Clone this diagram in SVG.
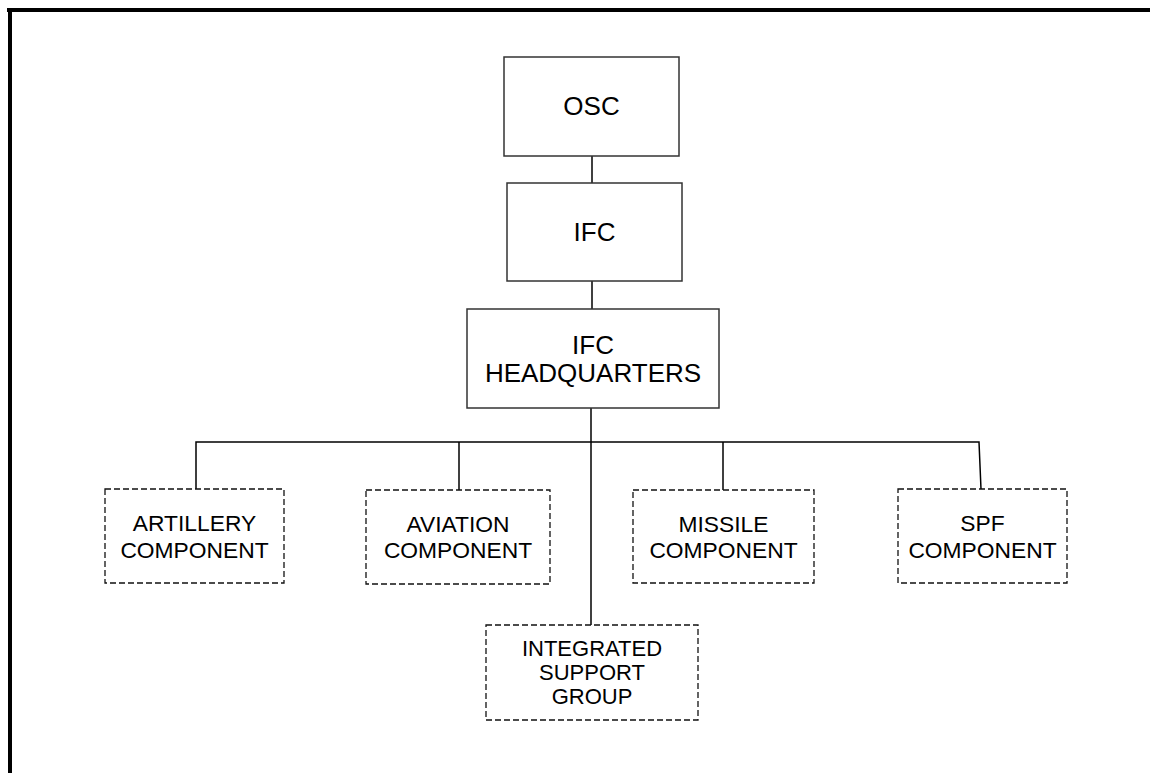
<svg xmlns="http://www.w3.org/2000/svg" width="1150" height="773" viewBox="0 0 1150 773">
<style>
  .solid { fill: #fff; stroke: #333; stroke-width: 1.5; }
  .dash { fill: #fff; stroke: #111; stroke-width: 1.3; stroke-dasharray: 6 3; }
  .big { font-family: "Liberation Sans", Arial, sans-serif; font-size: 26px; fill: #000; text-anchor: middle; }
  .sm { font-family: "Liberation Sans", Arial, sans-serif; font-size: 22.8px; fill: #000; text-anchor: middle; }
  .isg { font-family: "Liberation Sans", Arial, sans-serif; font-size: 22px; fill: #000; text-anchor: middle; }
  .conn { stroke: #000; stroke-width: 1.5; fill: none; }
</style>
<rect width="1150" height="773" fill="#fff"/>
<g id="frame">
  <line x1="7" y1="10" x2="1150" y2="10" stroke="#000" stroke-width="4"/>
  <line x1="10" y1="8" x2="10" y2="773" stroke="#000" stroke-width="4"/>
</g>
<g id="connectors">
  <line class="conn" x1="592" y1="156" x2="592" y2="183"/>
  <line class="conn" x1="592" y1="281" x2="592" y2="309"/>
  <line class="conn" x1="591" y1="408" x2="591" y2="625"/>
  <polyline class="conn" points="196,489 196,442 979,442 981,489"/>
  <line class="conn" x1="459" y1="442" x2="459" y2="490"/>
  <line class="conn" x1="723" y1="442" x2="723" y2="490"/>
</g>
<g id="osc">
  <rect class="solid" x="504" y="57" width="175" height="99"/>
  <text class="big" x="591.5" y="115">OSC</text>
</g>
<g id="ifc">
  <rect class="solid" x="507" y="183" width="175" height="98"/>
  <text class="big" x="594.5" y="241">IFC</text>
</g>
<g id="ifc-hq">
  <rect class="solid" x="467" y="309" width="252" height="99"/>
  <text class="big" x="593" y="354">IFC</text>
  <text class="big" x="593" y="382">HEADQUARTERS</text>
</g>
<g id="artillery">
  <rect class="dash" x="105" y="489" width="179" height="94"/>
  <text class="sm" x="194.5" y="531">ARTILLERY</text>
  <text class="sm" x="194.5" y="558">COMPONENT</text>
</g>
<g id="aviation">
  <rect class="dash" x="366" y="490" width="184" height="94"/>
  <text class="sm" x="458" y="531.5">AVIATION</text>
  <text class="sm" x="458" y="558">COMPONENT</text>
</g>
<g id="missile">
  <rect class="dash" x="633" y="490" width="181" height="93"/>
  <text class="sm" x="723.5" y="531.5">MISSILE</text>
  <text class="sm" x="723.5" y="558">COMPONENT</text>
</g>
<g id="spf">
  <rect class="dash" x="898" y="489" width="169" height="94"/>
  <text class="sm" x="982.5" y="531">SPF</text>
  <text class="sm" x="982.5" y="558">COMPONENT</text>
</g>
<g id="isg">
  <rect class="dash" x="486" y="625" width="212" height="95"/>
  <text class="isg" x="592" y="656">INTEGRATED</text>
  <text class="isg" x="592" y="680">SUPPORT</text>
  <text class="isg" x="592" y="704">GROUP</text>
</g>
</svg>
